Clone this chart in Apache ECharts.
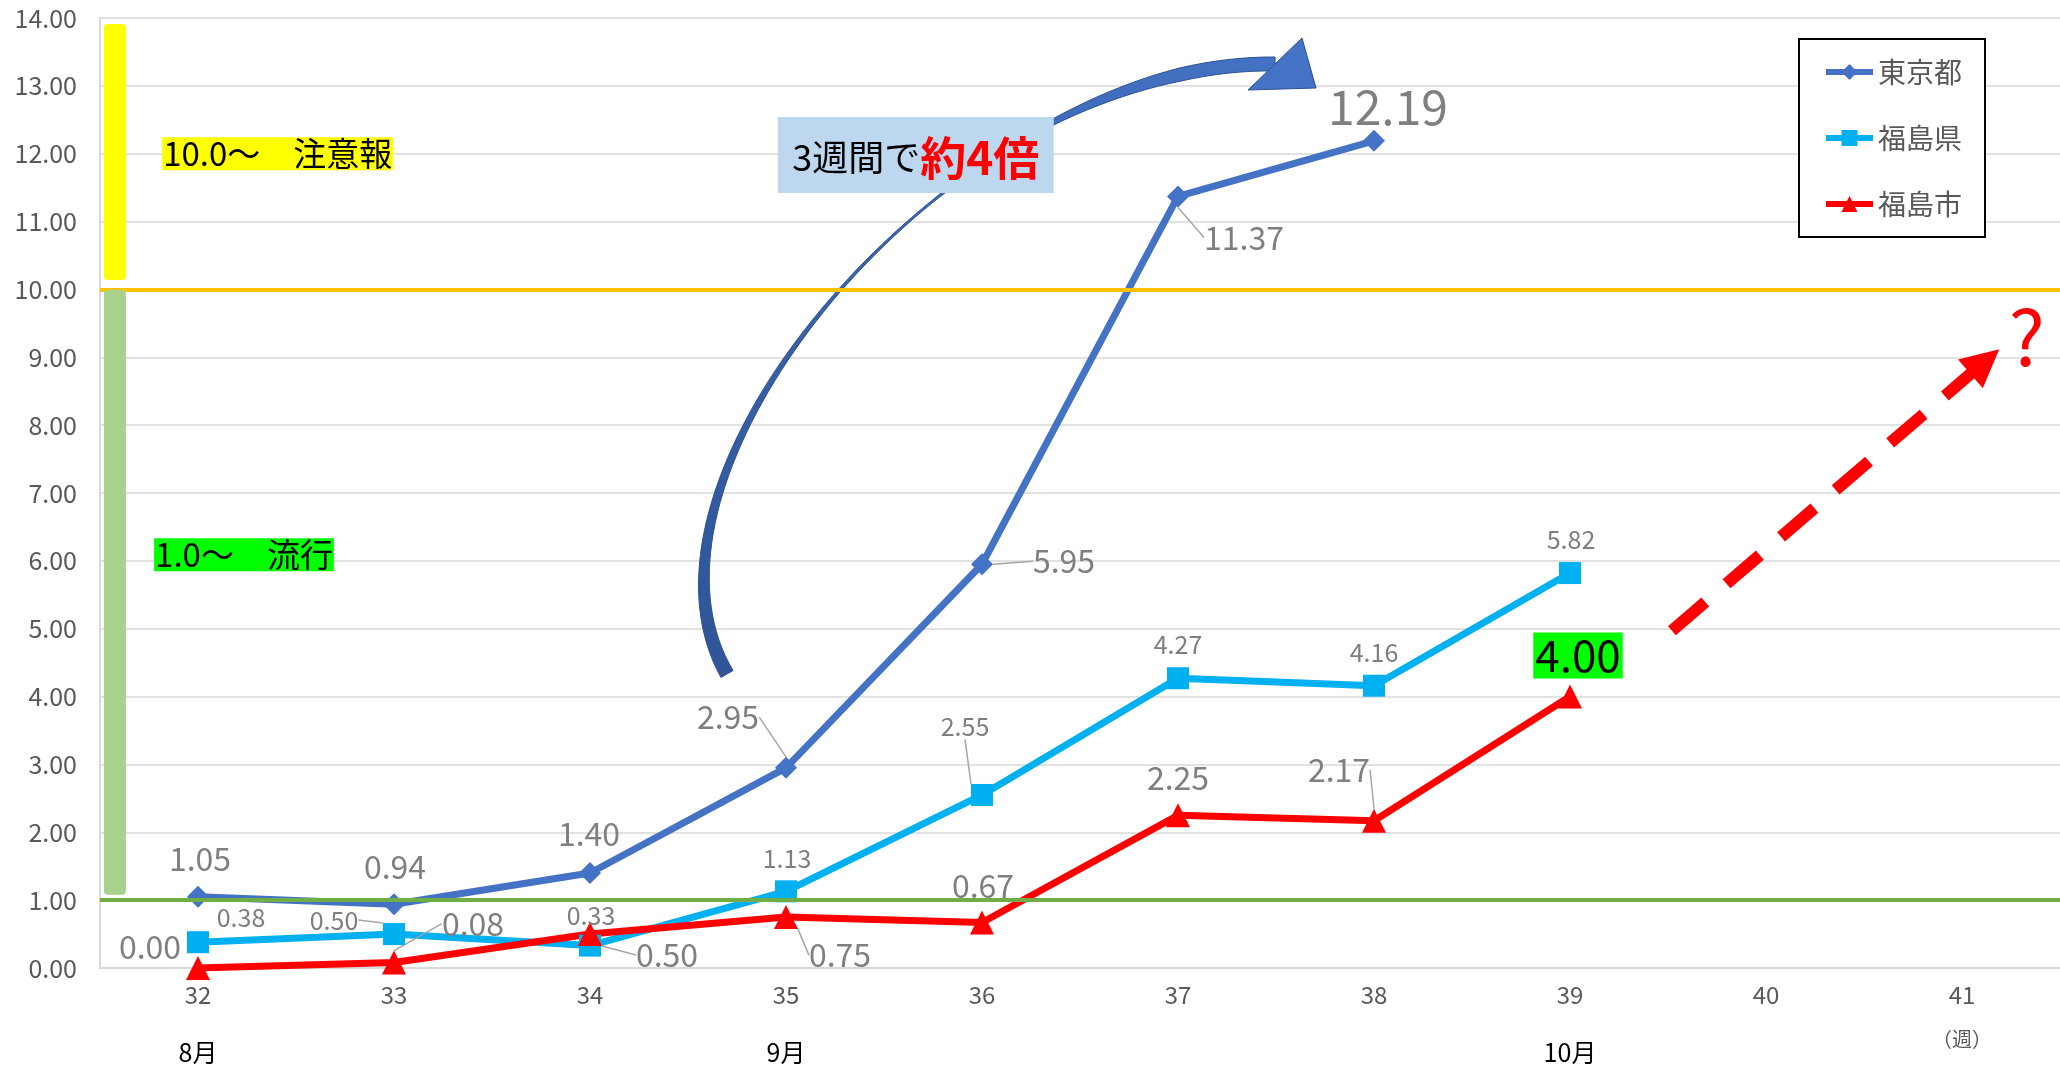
<!DOCTYPE html>
<html>
<head>
<meta charset="utf-8">
<style>
  html, body { margin: 0; padding: 0; background: #fff; }
  #chart-container { width: 2060px; height: 1072px; }
</style>
</head>
<body>
<div id="chart-container"></div>
<script src="https://cdn.jsdelivr.net/npm/echarts@6/dist/echarts.min.js"></script>
<script>
var weeks = ['32', '33', '34', '35', '36', '37', '38', '39', '40', '41'];
var monthLabels = ['8月', '', '', '9月', '', '', '', '10月', '', '（週）'];
var seriesNames = ['東京都', '福島県', '福島市'];
var tokyo = [1.05, 0.94, 1.40, 2.95, 5.95, 11.37, 12.19];
var fukushimaKen = [0.38, 0.50, 0.33, 1.13, 2.55, 4.27, 4.16, 5.82];
var fukushimaShi = [0.00, 0.08, 0.50, 0.75, 0.67, 2.25, 2.17, 4.00];
var thresholds = [10, 1];

var FONT = "'Noto Sans CJK JP', 'Noto Sans', sans-serif";

// label offsets from the marker centre (style only)
var tokyoOffsets = [[2, -38], [1, -37], [-1, -39], [-58, -51], [82, -3], [66, 41], [14, -34]];
var kenOffsets = [[43, -25], [-60, -14], [1, -30], [1, -33], [-17, -68], [0, -34], [0, -33], [1, -34]];
var shiOffsets = [[-48, -21], [79, -39], [77, 21], [54, 38], [1, -37], [0, -37], [-35, -51], [8, -41]];
var tokyoLeaders = [false, false, false, true, true, true, false];
var kenLeaders = [false, true, false, false, true, false, false, false];
var shiLeaders = [false, true, true, true, false, false, true, false];

var dom = document.getElementById('chart-container');
var myChart = echarts.init(dom, null, { renderer: 'canvas' });

function makeSeries(name, values, color, symbol, size, fontSize, offsets, leaders, special) {
    return {
        name: name,
        type: 'line',
        z: 2,
        symbol: symbol,
        symbolSize: size,
        lineStyle: { color: color, width: 7 },
        itemStyle: { color: color },
        data: values.map(function (v, i) {
            var d = { value: v, labelLine: { show: leaders[i] } };
            if (special && special[i]) d.label = special[i];
            return d;
        }),
        label: {
            show: true,
            position: 'inside',
            fontSize: fontSize,
            fontFamily: FONT,
            color: '#7F7F7F',
            formatter: function (p) { return p.value.toFixed(2); }
        },
        labelLine: { show: false, lineStyle: { color: '#A6A6A6', width: 1.5 } },
        labelLayout: function (p) {
            var o = offsets[p.dataIndex];
            return { dx: o[0], dy: o[1] };
        }
    };
}

var option = {
    animation: false,
    backgroundColor: '#fff',
    textStyle: { fontFamily: FONT },
    grid: { left: 100, top: 18, width: 1963, height: 950, containLabel: false },
    legend: {
        data: seriesNames,
        orient: 'vertical',
        left: 1799,
        top: 39,
        padding: [17, 23, 17, 24],
        itemGap: 34,
        itemWidth: 47,
        itemHeight: 20,
        backgroundColor: '#fff',
        borderColor: '#000',
        borderWidth: 2,
        lineStyle: { width: 6 },
        textStyle: { fontSize: 28, lineHeight: 32, color: '#595959', fontFamily: FONT }
    },
    xAxis: {
        type: 'category',
        data: weeks,
        boundaryGap: true,
        axisLine: { lineStyle: { color: '#D9D9D9', width: 2 } },
        axisTick: { show: false },
        axisLabel: {
            interval: 0,
            margin: 9,
            formatter: function (v, i) {
                var key = i === 9 ? 'u' : 'm';
                return '{w|' + v + '}\n{' + key + '|' + (monthLabels[i] || ' ') + '}';
            },
            rich: {
                w: { fontSize: 24, color: '#595959', lineHeight: 36, fontFamily: FONT },
                m: { fontSize: 25, color: '#000', lineHeight: 78, fontFamily: FONT },
                u: { fontSize: 20, color: '#595959', lineHeight: 52, fontFamily: FONT }
            }
        }
    },
    yAxis: {
        type: 'value',
        min: 0,
        max: 14,
        interval: 1,
        axisLine: { show: true, lineStyle: { color: '#D9D9D9', width: 2 } },
        axisTick: { show: false },
        splitLine: { lineStyle: { color: '#D9D9D9', width: 1.5 } },
        axisLabel: {
            fontSize: 25,
            color: '#595959',
            margin: 23,
            fontFamily: FONT,
            formatter: function (v) { return v.toFixed(2); }
        }
    },
    series: [
        makeSeries('東京都', tokyo, '#4472C4', 'diamond', 22, 32, tokyoOffsets, tokyoLeaders,
            { 6: { fontSize: 48 } }),
        makeSeries('福島県', fukushimaKen, '#00B0F0', 'rect', 22, 25, kenOffsets, kenLeaders),
        makeSeries('福島市', fukushimaShi, '#FF0000', 'triangle', 24, 32, shiOffsets, shiLeaders,
            { 7: { fontSize: 44, color: '#000', backgroundColor: '#00FF00', padding: [1, 2] } }),
        {
            name: 'threshold',
            type: 'line',
            data: [],
            z: 3,
            markLine: {
                silent: true,
                symbol: 'none',
                label: { show: false },
                data: [
                    { yAxis: thresholds[0], lineStyle: { color: '#FFC000', width: 4, type: 'solid' } },
                    { yAxis: thresholds[1], lineStyle: { color: '#70AD47', width: 4, type: 'solid' } }
                ]
            }
        }
    ]
};

myChart.setOption(option);

// pixel position for a (fractional) category index and a value
function at(ix, v) {
    var i0 = Math.floor(ix), f = ix - i0;
    var p0 = myChart.convertToPixel({ gridIndex: 0 }, [i0, v]);
    var p1 = myChart.convertToPixel({ gridIndex: 0 }, [i0 + 1, v]);
    return [p0[0] + f * (p1[0] - p0[0]), p0[1]];
}

var g = [];

// level bars on the left
var yb0 = at(-0.48, 13.91), yb1 = at(-0.48, 10.14);
g.push({ type: 'rect', z: 5, shape: { x: yb0[0], y: yb0[1], width: 22, height: yb1[1] - yb0[1], r: 4 },
    style: { fill: '#FFFF00' } });
var gb0 = at(-0.48, 9.99), gb1 = at(-0.48, 1.08);
g.push({ type: 'rect', z: 5, shape: { x: gb0[0], y: gb0[1], width: 22, height: gb1[1] - gb0[1], r: 4 },
    style: { fill: '#A9D18E' } });

var t1 = at(-0.183, 12.0);
g.push({ type: 'text', z: 6, x: t1[0], y: t1[1],
    style: { text: '10.0～　注意報', fontSize: 33, fontFamily: FONT, fill: '#000',
        backgroundColor: '#FFFF00', padding: [0, 1], verticalAlign: 'middle', textVerticalAlign: 'middle' } });
var t2 = at(-0.224, 6.09);
g.push({ type: 'text', z: 6, x: t2[0], y: t2[1],
    style: { text: '1.0～　流行', fontSize: 33, fontFamily: FONT, fill: '#000',
        backgroundColor: '#00FF00', padding: [0, 1], verticalAlign: 'middle', textVerticalAlign: 'middle' } });

// curved arrow
function bez(p, t) {
    var u = 1 - t;
    return [u * u * u * p[0][0] + 3 * u * u * t * p[1][0] + 3 * u * t * t * p[2][0] + t * t * t * p[3][0],
            u * u * u * p[0][1] + 3 * u * u * t * p[1][1] + 3 * u * t * t * p[2][1] + t * t * t * p[3][1]];
}
function bezD(p, t) {
    var u = 1 - t;
    return [3 * u * u * (p[1][0] - p[0][0]) + 6 * u * t * (p[2][0] - p[1][0]) + 3 * t * t * (p[3][0] - p[2][0]),
            3 * u * u * (p[1][1] - p[0][1]) + 6 * u * t * (p[2][1] - p[1][1]) + 3 * t * t * (p[3][1] - p[2][1])];
}
var ctrl = [[727, 674], [610, 470], [960, 60], [1275, 64]];
var widths = [[0, 14], [0.25, 8], [0.5, 3], [0.62, 2], [0.75, 5], [0.9, 13], [1, 14]];
function wAt(t) {
    for (var k = 1; k < widths.length; k++) {
        if (t <= widths[k][0]) {
            var a = widths[k - 1], b = widths[k];
            return a[1] + (b[1] - a[1]) * (t - a[0]) / (b[0] - a[0]);
        }
    }
    return widths[widths.length - 1][1];
}
var sideA = [], sideB = [];
for (var k = 0; k <= 80; k++) {
    var t = k / 80, p = bez(ctrl, t), d = bezD(ctrl, t);
    var len = Math.sqrt(d[0] * d[0] + d[1] * d[1]);
    var n = [-d[1] / len, d[0] / len], w = wAt(t) / 2;
    sideA.push([p[0] + n[0] * w, p[1] + n[1] * w]);
    sideB.push([p[0] - n[0] * w, p[1] - n[1] * w]);
}
g.push({ type: 'polygon', z: 4, shape: { points: sideA.concat(sideB.reverse()) },
    style: { fill: new echarts.graphic.LinearGradient(0, 1, 1, 0, [
        { offset: 0, color: '#2F5597' }, { offset: 0.5, color: '#3A64B0' }, { offset: 1, color: '#4472C4' }]),
        stroke: '#2F528F', lineWidth: 1 } });
g.push({ type: 'polygon', z: 4, shape: { points: [[1248, 90], [1302, 38], [1316, 88]] },
    style: { fill: '#4472C4', stroke: '#2F528F', lineWidth: 1 } });

// "3週間で約4倍" box
var bc = at(3.662, 11.98);
g.push({ type: 'rect', z: 6, shape: { x: bc[0] - 138, y: bc[1] - 38, width: 276, height: 76 },
    style: { fill: '#BDD7EE' } });
g.push({ type: 'text', z: 7, x: bc[0], y: bc[1] + 2,
    style: { text: '{a|3週間で}{b|約4倍}', align: 'center', verticalAlign: 'middle',
        textAlign: 'center', textVerticalAlign: 'middle',
        rich: {
            a: { fontSize: 36, fontFamily: FONT, fill: '#000', color: '#000' },
            b: { fontSize: 46, fontFamily: FONT, fontWeight: 'bold', fill: '#FF0000', color: '#FF0000' }
        } } });

// red dashed forecast arrow
var ra = at(7.52, 4.97), rb = at(9.19, 9.12);
var dx = rb[0] - ra[0], dy = rb[1] - ra[1], dl = Math.sqrt(dx * dx + dy * dy);
var ux = dx / dl, uy = dy / dl, headLen = 38, headHalf = 19;
var base = [rb[0] - ux * headLen, rb[1] - uy * headLen];
g.push({ type: 'line', z: 5, shape: { x1: ra[0], y1: ra[1], x2: base[0] + ux * 4, y2: base[1] + uy * 4 },
    style: { stroke: '#FF0000', lineWidth: 12, lineDash: [44, 28], lineCap: 'butt' } });
g.push({ type: 'polygon', z: 5, shape: { points: [rb,
    [base[0] - uy * headHalf, base[1] + ux * headHalf], [base[0] + uy * headHalf, base[1] - ux * headHalf]] },
    style: { fill: '#FF0000' } });
var qp = at(9.33, 9.3);
g.push({ type: 'text', z: 5, x: qp[0], y: qp[1],
    style: { text: '?', fontSize: 76, fontFamily: FONT, fill: '#FF0000',
        align: 'center', verticalAlign: 'middle', textAlign: 'center', textVerticalAlign: 'middle' } });

myChart.setOption({ graphic: g });

window.addEventListener('resize', myChart.resize);
</script>
</body>
</html>
